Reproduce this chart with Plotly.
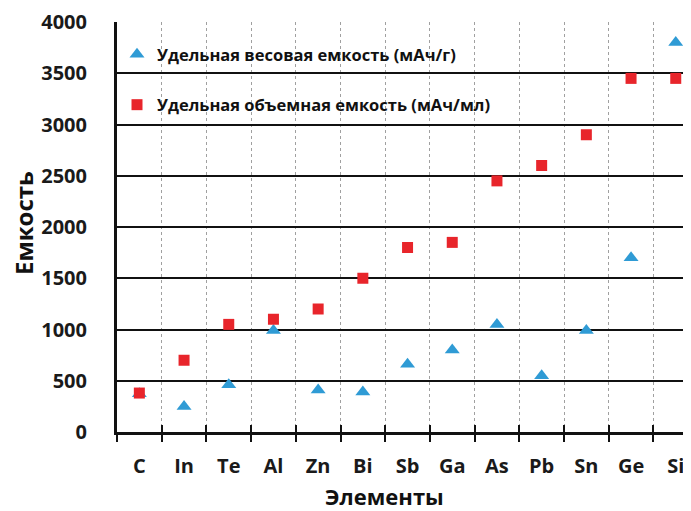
import plotly.graph_objects as go

elements = ["C", "In", "Te", "Al", "Zn", "Bi", "Sb", "Ga", "As", "Pb", "Sn", "Ge", "Si"]
gravimetric = [372, 250, 460, 990, 410, 390, 660, 800, 1050, 550, 990, 1700, 3800]
volumetric = [380, 700, 1050, 1100, 1200, 1500, 1800, 1850, 2450, 2600, 2900, 3450, 3450]
y_ticks = [0, 500, 1000, 1500, 2000, 2500, 3000, 3500, 4000]

name_grav = "Удельная весовая емкость (мАч/г)"
name_vol = "Удельная объемная емкость (мАч/мл)"

FONT = "Open Sans"
OFF = 8  # default page body margin
W, H = 691 - OFF, 511 - OFF
L, T, B, R = 117 - OFF, 22 - OFF, 79, 0
PW, PH = W - L - R, H - T - B

fig = go.Figure()
fig.add_trace(go.Scatter(
    x=elements, y=gravimetric, mode="markers", name=name_grav,
    legendgroup="g1",
    marker=dict(symbol="triangle-up", size=13, color="#2F9BD5"),
))
fig.add_trace(go.Scatter(
    x=elements, y=volumetric, mode="markers", name=name_vol,
    legendgroup="g2",
    marker=dict(symbol="square", size=11, color="#E8252B"),
))
# helper trace for the inside part of the crossing ticks
fig.add_trace(go.Scatter(
    x=elements, y=[None] * len(elements), xaxis="x2", yaxis="y",
    mode="markers", showlegend=False, hoverinfo="skip",
))

step = 44.7
xr = [-0.5, -0.5 + PW / step]


def sx(px):  # screen x -> paper
    return (px - OFF - L) / PW


def sy(py):  # screen y -> paper
    return (H - B - (py - OFF)) / PH


fig.update_layout(
    width=W, height=H,
    margin=dict(l=L, r=R, t=T, b=B, autoexpand=False),
    paper_bgcolor="white", plot_bgcolor="white",
    font=dict(family=FONT, color="#1a1a1a"),
    showlegend=True,
    legend=dict(
        x=0.0, y=sy(37),
        xanchor="left", yanchor="top",
        bgcolor="rgba(0,0,0,0)",
        font=dict(family=FONT, size=16.5, color="#111111", weight="bold"),
        tracegroupgap=26,
    ),
    xaxis=dict(
        type="category", categoryorder="array", categoryarray=elements,
        range=xr,
        tickson="boundaries",
        showgrid=True, gridcolor="#a0a0a0", griddash="dot", gridwidth=1,
        showline=True, linecolor="#111111", linewidth=3,
        ticks="outside", ticklen=7, tickwidth=2, tickcolor="#111111",
        tickfont=dict(family=FONT, size=20, color="#1a1a1a", weight="bold"),
        ticklabelstandoff=14,
        zeroline=False,
    ),
    xaxis2=dict(
        type="category", categoryorder="array", categoryarray=elements,
        range=xr, overlaying="x", anchor="y", side="bottom",
        tickson="boundaries",
        showgrid=False, showline=False,
        ticks="inside", ticklen=7, tickwidth=2, tickcolor="#111111",
        showticklabels=False, zeroline=False,
    ),
    yaxis=dict(
        range=[0, 4000],
        tickvals=y_ticks,
        showgrid=True, gridcolor="#111111", gridwidth=2,
        showline=True, linecolor="#111111", linewidth=3,
        ticks="", zeroline=False,
        tickfont=dict(family=FONT, size=20, color="#1a1a1a", weight="bold"),
        ticklabelstandoff=23,
    ),
    annotations=[
        dict(text="Емкость", xref="paper", yref="paper",
             x=sx(23), y=sy(223),
             xanchor="center", yanchor="middle", showarrow=False, textangle=-90,
             font=dict(family=FONT, size=24, color="#111111", weight="bold")),
        dict(text="Элементы", xref="paper", yref="paper",
             x=sx(384), y=sy(496),
             xanchor="center", yanchor="middle", showarrow=False,
             font=dict(family=FONT, size=22, color="#111111", weight="bold")),
    ],
)

fig.write_html("out.html")
